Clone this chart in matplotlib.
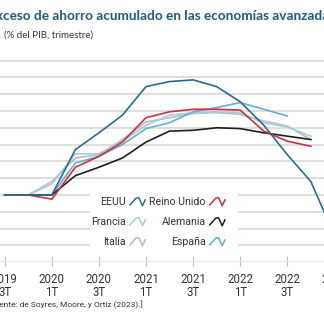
import matplotlib
matplotlib.use("Agg")
import matplotlib.pyplot as plt
from matplotlib.lines import Line2D
from matplotlib.patches import Rectangle
from matplotlib import font_manager as fm

# ---------------- data ----------------
quarters = ["2019 3T", "2019 4T", "2020 1T", "2020 2T", "2020 3T", "2020 4T",
            "2021 1T", "2021 2T", "2021 3T", "2021 4T", "2022 1T", "2022 2T",
            "2022 3T", "2022 4T", "2023 1T"]
tick_labels = ["2019\n3T", "2020\n1T", "2020\n3T", "2021\n1T",
               "2021\n3T", "2022\n1T", "2022\n3T", "2023\n1T"]

eeuu = [0, 0, 0, 5.4, 7.4, 9.5, 12.9, 13.5, 13.7, 12.9, 11.1, 8.3, 4.8, 1.6, -4.8]
reino_unido = [0, 0, -0.5, 3.3, 4.6, 6.3, 9.2, 9.9, 10.2, 10.2, 10.1, 7.6, 6.4, 5.8]
alemania = [0, 0, 0, 2.3, 3.3, 4.4, 6.3, 7.6, 7.7, 8.0, 7.9, 7.4, 7.0, 6.6]
francia = [0, 0, 1.3, 4.9, 4.9, 6.4, 8.3, 9.5, 9.8, 9.9, 9.8, 8.6, 8.1, 7.0]
italia = [0, 0, 1.6, 4.4, 4.8, 6.6, 8.7, 9.2, 9.7, 9.8, 9.6, 8.8, 8.2, 6.6]
espana = [0, 0, 0, 3.8, 4.6, 6.0, 7.9, 8.6, 9.9, 10.4, 11.0, 10.2, 9.4]

series = [
    ("Italia", italia, "#bcbcbc"),
    ("Francia", francia, "#a9cadd"),
    ("España", espana, "#62b1d4"),
    ("Alemania", alemania, "#1e1e1e"),
    ("Reino Unido", reino_unido, "#d0303c"),
    ("EEUU", eeuu, "#2b6c8c"),
]
legend_order = [["EEUU", "Francia", "Italia"], ["Reino Unido", "Alemania", "España"]]

# ---------------- fonts ----------------
names = {f.name for f in fm.fontManager.ttflist}
narrow = "Roboto" if "Roboto" in names else "Liberation Sans"
title_font = "Lato" if "Lato" in names else "DejaVu Sans"

W = H = 324
fig = plt.figure(figsize=(3.24, 3.24), dpi=100)
fig.patch.set_facecolor("white")

def fx(p):
    return p / W

def fy(p):
    return 1 - p / H

# axes extends beyond the picture (chart is cropped)
ax = fig.add_axes([fx(-24), fy(261), fx(372), fy(57.2) - fy(261)])
ax.set_facecolor("none")
x = list(range(len(quarters)))
ax.set_xlim(-1.219, 14.577)
ax.set_ylim(-7.86, 16.4)

ax.set_yticks([v for v in range(-6, 17, 2)])
ax.yaxis.grid(True, color="#d6d6d6", lw=1.1)
ax.set_axisbelow(True)
ax.tick_params(axis="y", length=0, labelleft=False)

ax.set_xticks(x[::2])
ax.set_xticklabels(tick_labels, fontfamily=narrow, fontsize=8.3, color="#333333",
                   linespacing=1.0)
ax.tick_params(axis="x", direction="inout", length=7, width=0.8, color="#bdbdbd", pad=5)
for s in ["top", "left", "right"]:
    ax.spines[s].set_visible(False)
ax.spines["bottom"].set_color("#e8e8e8")
ax.spines["bottom"].set_linewidth(0.6)

for name, vals, col in series:
    ax.plot(x[:len(vals)], vals, color=col, lw=1.2, solid_joinstyle="miter", zorder=3)

# legend box (white background covering the gridlines)
fig.add_artist(Rectangle((fx(90), fy(250)), fx(148), fy(188) - fy(250),
                         transform=fig.transFigure, facecolor="white",
                         edgecolor="none", zorder=2.5))
colors = {n: c for n, _, c in series}
icon_x = [0.0, 0.38, 0.55, 0.78, 0.95]
icon_y = [-0.35, 0.4, 0.45, -0.45, 0.2]
col_text_right = [126, 205.5]
col_icon_left = [130, 209.7]
row_y = [201.7, 221.7, 241.7]
for c, names_col in enumerate(legend_order):
    for r, nm in enumerate(names_col):
        fig.text(fx(col_text_right[c]), fy(row_y[r]), nm, ha="right", va="center",
                 fontfamily=narrow, fontsize=7.6, color="#333333", zorder=4)
        xs = [fx(col_icon_left[c] + 16 * t) for t in icon_x]
        ys = [fy(row_y[r] - 9 * t) for t in icon_y]
        fig.add_artist(Line2D(xs, ys, transform=fig.transFigure, color=colors[nm],
                              lw=1.1, zorder=4))

# titles and source
fig.text(0.5, fy(16.5), "Exceso de ahorro acumulado en las economías avanzadas",
         ha="center", va="center", fontfamily=title_font, fontweight="bold",
         fontsize=9.8, color="#1d5b7a")
fig.text(fx(3.5), fy(35.5), "(% del PIB, trimestre)", ha="left", va="center",
         fontfamily=title_font, fontsize=7, color="#333333")
fig.text(fx(-10), fy(305), "Fuente: de Soyres, Moore, y Ortiz (2023).]", ha="left",
         va="center", fontfamily=narrow, fontsize=6, color="#333333")

fig.savefig("out.png", dpi=100, facecolor="white")
